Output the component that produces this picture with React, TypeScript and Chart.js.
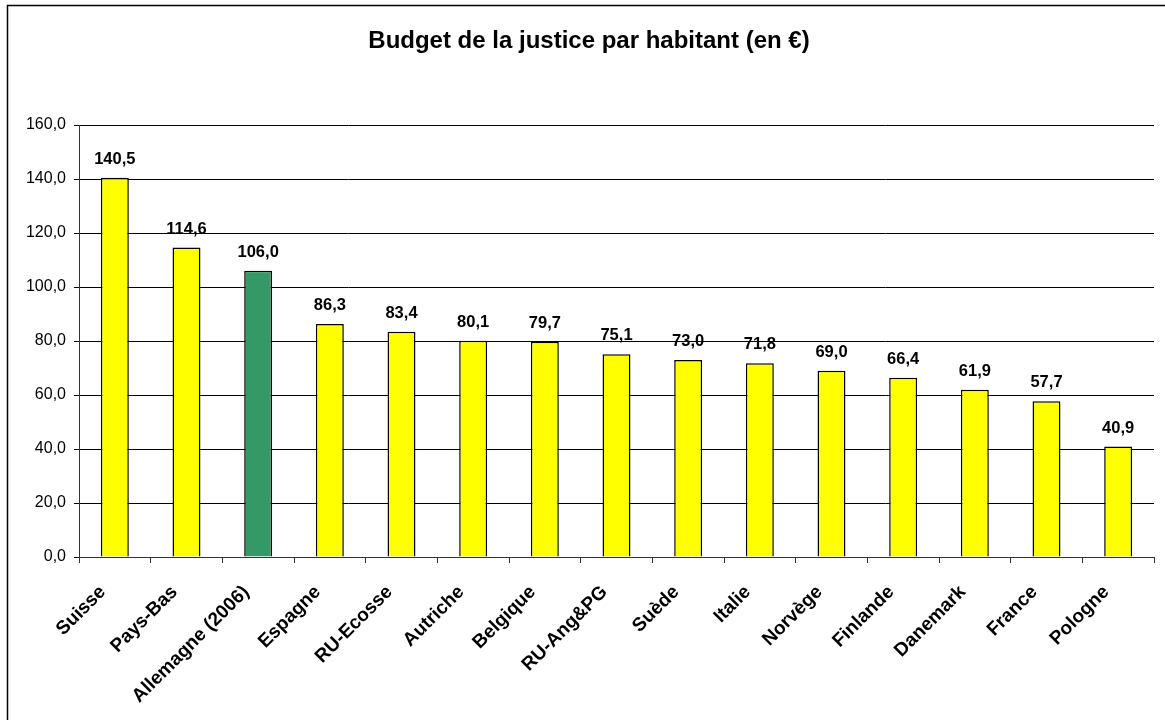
import React, { useEffect, useRef } from "react";
import { Chart, registerables } from "chart.js";

Chart.register(...registerables);

const countries: string[] = [
  "Suisse",
  "Pays-Bas",
  "Allemagne (2006)",
  "Espagne",
  "RU-Ecosse",
  "Autriche",
  "Belgique",
  "RU-Ang&PG",
  "Suède",
  "Italie",
  "Norvège",
  "Finlande",
  "Danemark",
  "France",
  "Pologne",
];

const budgetPerInhabitant: number[] = [
  140.5, 114.6, 106.0, 86.3, 83.4, 80.1, 79.7, 75.1, 73.0, 71.8, 69.0, 66.4, 61.9, 57.7, 40.9,
];

const highlightedCountry = "Allemagne (2006)";
const titleText = "Budget de la justice par habitant (en €)";
const yMin = 0;
const yMax = 160;
const yStep = 20;

const FONT = "'Liberation Sans', Arial, Helvetica, sans-serif";
const fmt = (v: number) => v.toFixed(1).replace(".", ",");

export default function App() {
  const canvasRef = useRef<HTMLCanvasElement | null>(null);

  useEffect(() => {
    const canvas = canvasRef.current;
    if (!canvas) return;

    const framePlugin = {
      id: "frameAndTitle",
      beforeDraw(chart: any) {
        const ctx = chart.ctx;
        ctx.save();
        ctx.fillStyle = "#ffffff";
        ctx.fillRect(0, 0, chart.width, chart.height);
        ctx.strokeStyle = "#000000";
        ctx.lineWidth = 1.5;
        ctx.beginPath();
        ctx.moveTo(7.5, 722);
        ctx.lineTo(7.5, 5.5);
        ctx.lineTo(1170, 5.5);
        ctx.stroke();
        ctx.fillStyle = "#000000";
        ctx.font = `bold 24px ${FONT}`;
        ctx.textAlign = "center";
        ctx.textBaseline = "alphabetic";
        ctx.fillText(titleText, 589, 48);
        ctx.restore();
      },
    };

    const valueLabelPlugin = {
      id: "valueLabels",
      afterDatasetsDraw(chart: any) {
        const ctx = chart.ctx;
        const meta = chart.getDatasetMeta(0);
        ctx.save();
        ctx.fillStyle = "#000000";
        ctx.font = `bold 16.5px ${FONT}`;
        ctx.textAlign = "center";
        ctx.textBaseline = "alphabetic";
        meta.data.forEach((bar: any, i: number) => {
          ctx.fillText(fmt(budgetPerInhabitant[i]), bar.x, bar.y - 14);
        });
        ctx.restore();
      },
    };

    const chart = new Chart(canvas, {
      type: "bar",
      data: {
        labels: countries,
        datasets: [
          {
            data: budgetPerInhabitant,
            backgroundColor: countries.map((c) => (c === highlightedCountry ? "#339966" : "#FFFF00")),
            borderColor: "#000000",
            borderWidth: 1.5,
            barPercentage: 0.39,
            categoryPercentage: 1,
          },
        ],
      },
      options: {
        responsive: false,
        animation: false,
        devicePixelRatio: 1,
        layout: { padding: { top: 125, left: 0, right: 11, bottom: 0 } },
        plugins: {
          legend: { display: false },
          title: { display: false },
          tooltip: { enabled: false },
        },
        scales: {
          x: {
            offset: true,
            grid: {
              offset: true,
              drawOnChartArea: false,
              drawTicks: true,
              tickLength: 6,
              color: "#333333",
            },
            border: { display: true, color: "#333333", width: 1 },
            ticks: {
              autoSkip: false,
              maxRotation: 45,
              minRotation: 45,
              color: "#000000",
              padding: 18,
              labelOffset: -12,
              font: { family: FONT, size: 19, weight: "bold" },
            },
            afterFit(scale: any) {
              scale.height = 720 - 557;
            },
          },
          y: {
            min: yMin,
            max: yMax,
            ticks: {
              stepSize: yStep,
              color: "#000000",
              padding: 8,
              font: { family: FONT, size: 16 },
              callback: (v: any) => fmt(Number(v)),
            },
            grid: {
              color: "#000000",
              lineWidth: 1,
              drawTicks: true,
              tickLength: 5,
            },
            border: { display: true, color: "#333333", width: 1 },
            afterFit(scale: any) {
              scale.width = 79;
            },
          },
        },
      },
      plugins: [framePlugin, valueLabelPlugin],
    });

    return () => chart.destroy();
  }, []);

  return (
    <div style={{ position: "fixed", left: 0, top: 0, width: 1165, height: 720, background: "#fff" }}>
      <canvas ref={canvasRef} width={1165} height={720} style={{ display: "block", width: 1165, height: 720 }} />
    </div>
  );
}
